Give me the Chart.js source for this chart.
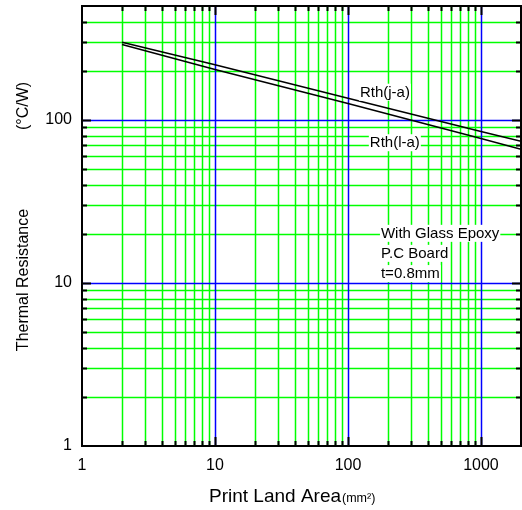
<!DOCTYPE html>
<html><head><meta charset="utf-8">
<script src="https://cdn.jsdelivr.net/npm/chart.js@4/dist/chart.umd.min.js"></script>
<style>html,body{margin:0;padding:0;background:#fff}</style>
</head><body>
<canvas id="c" width="522" height="510"></canvas>
<script>
// ---- data ----
const areaValues = [2, 10, 100, 1000, 2000];          // Print Land Area (mm²)
const rthJA = [300, 218, 136, 85, 74];                 // Rth(j-a) °C/W
const rthLA = [290, 204, 126, 77, 66];                 // Rth(l-a) °C/W
const xTickValues = [1,2,3,4,5,6,7,8,9,10,20,30,40,50,60,70,80,90,100,200,300,400,500,600,700,800,900,1000,2000];
const yTickValues = [1,2,3,4,5,6,7,8,9,10,20,30,40,50,60,70,80,90,100,200,300,400,500];
const xLabelValues = [1,10,100,1000];
const yLabelValues = [1,10,100];
const seriesNames = ['Rth(j-a)', 'Rth(l-a)'];
const noteLines = ['With Glass Epoxy', 'P.C Board', 't=0.8mm'];

// annotation anchors in data coordinates (left x, middle y)
const labelAnchors = [
  {text: seriesNames[0], x: 123, y: 149},
  {text: seriesNames[1], x: 146, y: 73},
  {text: noteLines[0], x: 177, y: 20.3},
  {text: noteLines[1], x: 177, y: 15.3},
  {text: noteLines[2], x: 177, y: 11.5}
];

const FONT = "'Liberation Sans', Arial, sans-serif";
const GREEN = '#00ff00', BLUE = '#0000ff';
const isDecade = v => Math.abs(Math.log10(v) - Math.round(Math.log10(v))) < 1e-9;
const zeroPad = s => { s.paddingTop = 0; s.paddingBottom = 0; s.paddingLeft = 0; s.paddingRight = 0; };

const decor = {
  id: 'decor',
  beforeDatasetsDraw(chart) {
    const {ctx, chartArea: a, scales: {x, y}} = chart;
    ctx.save();
    ctx.lineWidth = 1.5;
    const drawSet = (decade) => {
      ctx.strokeStyle = decade ? BLUE : GREEN;
      ctx.beginPath();
      xTickValues.forEach(v => {
        if (v <= x.min || v >= x.max || isDecade(v) !== decade) return;
        const px = Math.round(x.getPixelForValue(v)) + 0.5;
        ctx.moveTo(px, a.top); ctx.lineTo(px, a.bottom);
      });
      yTickValues.forEach(v => {
        if (v <= y.min || v >= y.max || isDecade(v) !== decade) return;
        const py = Math.round(y.getPixelForValue(v)) + 0.5;
        ctx.moveTo(a.left, py); ctx.lineTo(a.right, py);
      });
      ctx.stroke();
    };
    drawSet(false);
    drawSet(true);
    ctx.restore();
  },
  afterDatasetsDraw(chart) {
    const {ctx, scales: {x, y}} = chart;
    ctx.save();
    ctx.font = '15px ' + FONT;
    ctx.textBaseline = 'middle';
    ctx.textAlign = 'left';
    labelAnchors.forEach(a => {
      const px = x.getPixelForValue(a.x), py = y.getPixelForValue(a.y);
      const w = ctx.measureText(a.text).width;
      ctx.fillStyle = '#fff';
      ctx.fillRect(px - 1, py - 8, w + 2, 17);
      ctx.fillStyle = '#000';
      ctx.fillText(a.text, px, py + 1);
    });
    ctx.restore();
  },
  afterDraw(chart) {
    const {ctx, chartArea: a, scales: {x, y}} = chart;
    ctx.save();
    ctx.strokeStyle = '#000';
    ctx.lineWidth = 2;
    ctx.beginPath();
    xTickValues.forEach(v => {
      if (v <= x.min || v >= x.max) return;
      const px = Math.round(x.getPixelForValue(v)) + 0.5;
      const len = isDecade(v) ? 9 : 5;
      ctx.moveTo(px, a.bottom); ctx.lineTo(px, a.bottom - len);
      ctx.moveTo(px, a.top); ctx.lineTo(px, a.top + len);
    });
    yTickValues.forEach(v => {
      if (v <= y.min || v >= y.max) return;
      const py = Math.round(y.getPixelForValue(v)) + 0.5;
      const len = isDecade(v) ? 9 : 5;
      ctx.moveTo(a.left, py); ctx.lineTo(a.left + len, py);
      ctx.moveTo(a.right, py); ctx.lineTo(a.right - len, py);
    });
    ctx.stroke();
    ctx.strokeRect(a.left, a.top, a.right - a.left, a.bottom - a.top);

    // axis titles
    ctx.fillStyle = '#000';
    ctx.textBaseline = 'alphabetic';
    ctx.textAlign = 'left';
    ctx.font = '19px ' + FONT;
    ctx.fillText('Print Land Area', 209, 502);
    ctx.font = '12.5px ' + FONT;
    ctx.fillText('(mm²)', 342, 502);

    ctx.translate(24, 0);
    ctx.rotate(-Math.PI / 2);
    ctx.font = '16px ' + FONT;
    ctx.textAlign = 'center';
    ctx.textBaseline = 'middle';
    ctx.fillText('Thermal Resistance', -280, 0);
    ctx.fillText('(°C/W)', -106, 0);
    ctx.restore();
  }
};

new Chart(document.getElementById('c'), {
  type: 'line',
  data: {
    datasets: [
      {label: seriesNames[0], data: areaValues.map((v, i) => ({x: v, y: rthJA[i]})),
       borderColor: '#000', borderWidth: 1.5, pointRadius: 0, fill: false, tension: 0},
      {label: seriesNames[1], data: areaValues.map((v, i) => ({x: v, y: rthLA[i]})),
       borderColor: '#000', borderWidth: 1.5, pointRadius: 0, fill: false, tension: 0}
    ]
  },
  options: {
    responsive: false,
    animation: false,
    devicePixelRatio: 1,
    layout: {padding: {top: 6, right: 1, left: 0, bottom: 0}},
    plugins: {legend: {display: false}, tooltip: {enabled: false}},
    scales: {
      x: {
        type: 'logarithmic', min: 1, max: 2000,
        afterBuildTicks: s => { s.ticks = xTickValues.map(v => ({value: v})); },
        afterFit: s => { s.height = 64; zeroPad(s); },
        grid: {display: false, drawTicks: false},
        border: {display: false},
        ticks: {
          autoSkip: false, maxRotation: 0, padding: 10, color: '#000',
          font: {family: FONT, size: 16},
          callback: v => xLabelValues.includes(v) ? String(v) : ''
        }
      },
      y: {
        type: 'logarithmic', min: 1, max: 500,
        afterBuildTicks: s => { s.ticks = yTickValues.map(v => ({value: v})); },
        afterFit: s => { s.width = 82; zeroPad(s); },
        grid: {display: false, drawTicks: false},
        border: {display: false},
        ticks: {
          autoSkip: false, padding: 10, color: '#000',
          font: {family: FONT, size: 16},
          callback: v => yLabelValues.includes(v) ? String(v) : ''
        }
      }
    }
  },
  plugins: [decor]
});
</script>
</body></html>
